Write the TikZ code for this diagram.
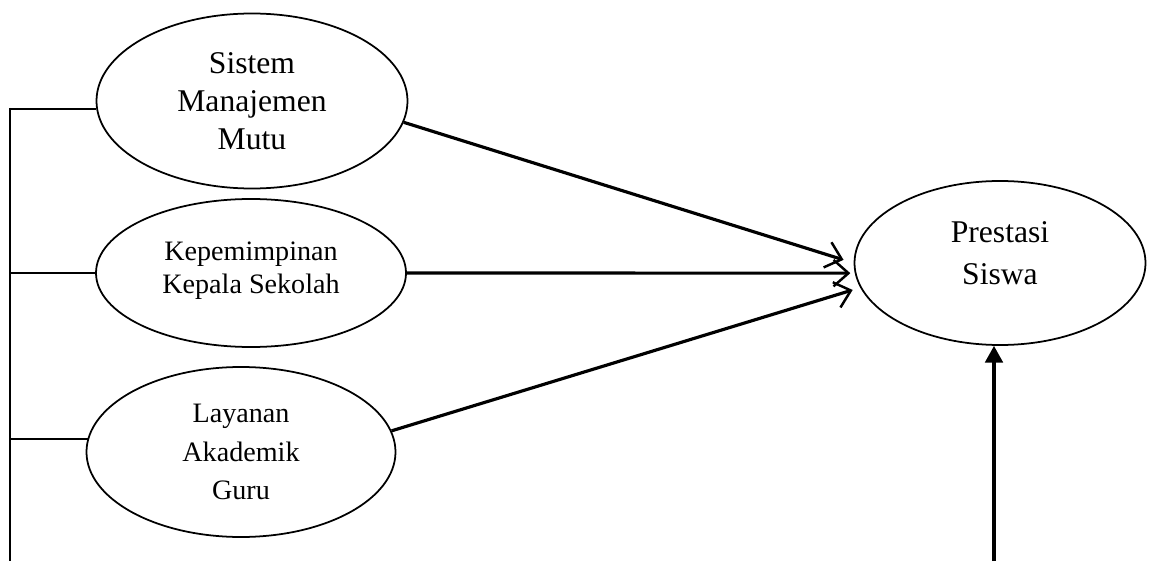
\documentclass[tikz,border=0pt]{standalone}
\usepackage{fontspec}
\setmainfont{Liberation Serif}
\usetikzlibrary{shapes.geometric,arrows.meta}

\begin{document}
\begin{tikzpicture}[
		var/.style={draw, ellipse, line width=1pt, inner sep=0pt, align=center},
		link/.style={line width=1.2pt},
		effect/.style={line width=1.8pt, -{Straight Barb[length=8.5pt,width=15pt,line width=1.4pt]}},
		lift/.style={line width=1.8pt, -{Triangle[length=9.5pt,width=10pt]}}
	]
			%%%%% START %%%%%
			\useasboundingbox (0, 0) rectangle (23, 11.22);
			
			\node[var, minimum width=6.22cm, minimum height=3.5cm, font=\fontsize{18}{21.5}\selectfont] (mutu) at (5.04, 9.2) {Sistem\\Manajemen\\Mutu};
			\node[var, minimum width=6.2cm, minimum height=2.96cm, font=\fontsize{16}{19}\selectfont] (kepsek) at (5.02, 5.76) {Kepemimpinan\\Kepala Sekolah\\[-13pt]\mbox{}};
			\node[var, minimum width=6.18cm, minimum height=3.4cm, font=\fontsize{16}{21.7}\selectfont] (guru) at (4.82, 2.18) {Layanan\\Akademik\\Guru};
			\node[var, minimum width=5.82cm, minimum height=3.28cm, font=\fontsize{18}{24}\selectfont] (siswa) at (20, 5.96) {Prestasi\\Siswa\\[-12.5pt]\mbox{}};
			
			\coordinate (spine) at (0.2, 9.06);
			\coordinate (spinefoot) at (0.2, 0);
			\coordinate (base) at (19.88, 0);
			
			\draw[link] (spine) -- (spinefoot);
			\draw[link] (mutu.183) -- (mutu.183 -| spine);
			\draw[link] (kepsek.west) -- (kepsek.west -| spine);
			\draw[link] (guru.175) -- (guru.175 -| spine);
			
			\draw[effect, shorten >=6pt] (mutu.352) -- (siswa.west);
			\draw[effect, shorten >=2.5pt] (kepsek.east) -- (siswa.184);
			\draw[effect, shorten >=4.5pt] (guru.8) -- (siswa.190);
			
			\draw[lift] (base) -- (base |- siswa.south);
			%%%%% END %%%%%
\end{tikzpicture}
\end{document}
